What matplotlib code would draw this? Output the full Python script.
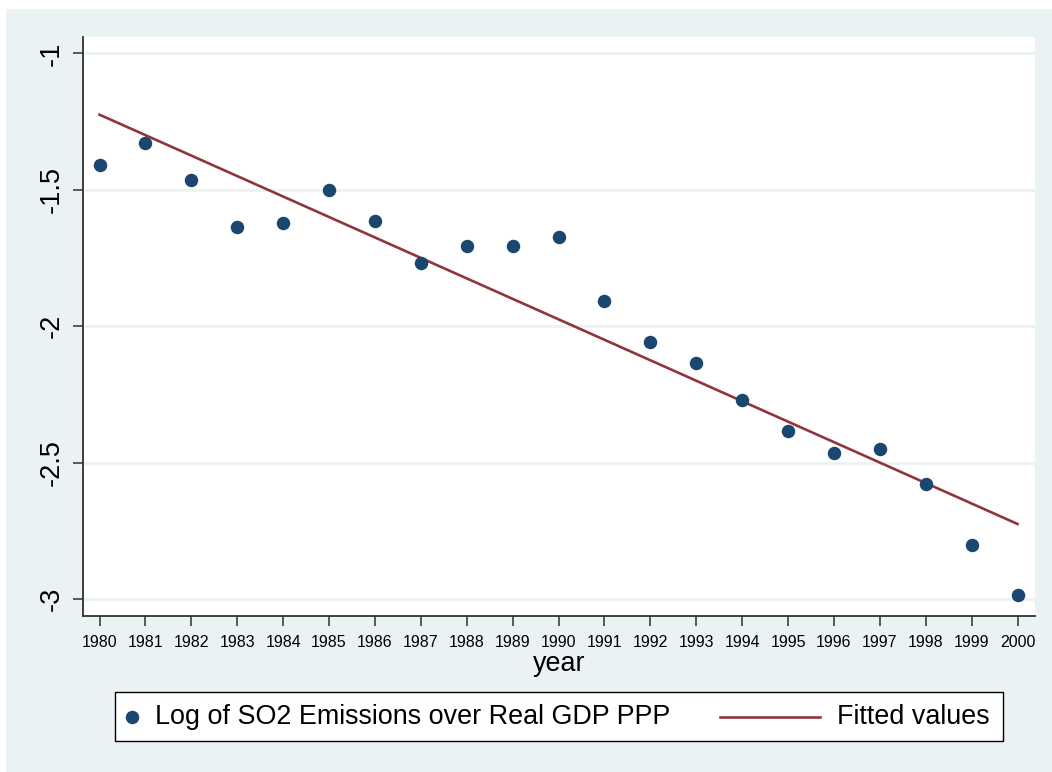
import numpy as np
import matplotlib
matplotlib.use("Agg")
import matplotlib.pyplot as plt
from matplotlib.patches import Rectangle
from matplotlib.lines import Line2D

# ---- data ----
years = np.arange(1980, 2001)
log_so2_gdp = [-1.409, -1.329, -1.464, -1.636, -1.622, -1.501, -1.615,
               -1.769, -1.706, -1.706, -1.673, -1.908, -2.058, -2.135,
               -2.271, -2.384, -2.465, -2.450, -2.579, -2.803, -2.986]
y_ticks = [-1, -1.5, -2, -2.5, -3]
y_ticklabels = ["-1", "-1.5", "-2", "-2.5", "-3"]
series_label = "Log of SO2 Emissions over Real GDP PPP"
fit_label = "Fitted values"

# linear fit (Stata lfit)
slope, intercept = np.polyfit(years, log_so2_gdp, 1)
fitted = slope * years + intercept

# s2color scheme colours
bg = "#EAF2F3"
navy = "#1A476F"
maroon = "#90353B"

plt.rcParams["font.family"] = ["Liberation Sans", "DejaVu Sans"]

W, H = 1052, 772
fig = plt.figure(figsize=(W / 100, H / 100), dpi=100, facecolor="white")

# graph region background
fig.patches.append(Rectangle((6 / W, -0.01), 1.0, 1.01 - 9 / H,
                             transform=fig.transFigure, facecolor=bg,
                             edgecolor="none", zorder=-5))

ax = fig.add_axes([83 / W, (H - 616) / H, (1035 - 83) / W, (616 - 37) / H])
ax.set_facecolor("white")

ax.plot(years, fitted, color=maroon, lw=1.9, zorder=3)
ax.plot(years, log_so2_gdp, "o", color=navy, ms=9.7, mew=0, zorder=4)

ax.set_xlim(1979.64, 2000.38)
ax.set_ylim(-3.062, -0.94)

ax.set_xticks(years)
ax.set_xticklabels([str(y) for y in years], fontsize=11.5)
ax.set_yticks(y_ticks)
ax.set_yticklabels(y_ticklabels, fontsize=19.5, rotation=90, va="center")

ax.grid(axis="y", color=bg, lw=2)
ax.set_axisbelow(True)

for side in ["top", "right"]:
    ax.spines[side].set_visible(False)
for side in ["left", "bottom"]:
    ax.spines[side].set_color("#303030")
    ax.spines[side].set_linewidth(1.3)
ax.tick_params(axis="both", direction="out", length=7.5, width=1.1,
               color="#303030", labelcolor="black")
ax.tick_params(axis="x", pad=6)
ax.tick_params(axis="y", pad=6)

ax.set_xlabel("year", fontsize=19.4, labelpad=1)

# legend box below the plot
ly = 1 - 716.5 / H
fig.patches.append(Rectangle((115 / W, 1 - 741 / H), (1003 - 115) / W,
                             (741 - 692) / H, transform=fig.transFigure,
                             facecolor="white", edgecolor="black", lw=1.0,
                             zorder=1))
fig.lines.append(Line2D([132 / W], [ly], transform=fig.transFigure,
                        marker="o", color=navy, ms=9.7, mew=0, zorder=2))
fig.text(155 / W, ly, series_label, fontsize=19.4, va="center", ha="left")
fig.lines.append(Line2D([720 / W, 820 / W], [ly, ly],
                        transform=fig.transFigure, color=maroon, lw=1.9,
                        zorder=2))
fig.text(837 / W, ly, fit_label, fontsize=19.4, va="center", ha="left")

fig.savefig("out.png", dpi=100, facecolor=fig.get_facecolor())
